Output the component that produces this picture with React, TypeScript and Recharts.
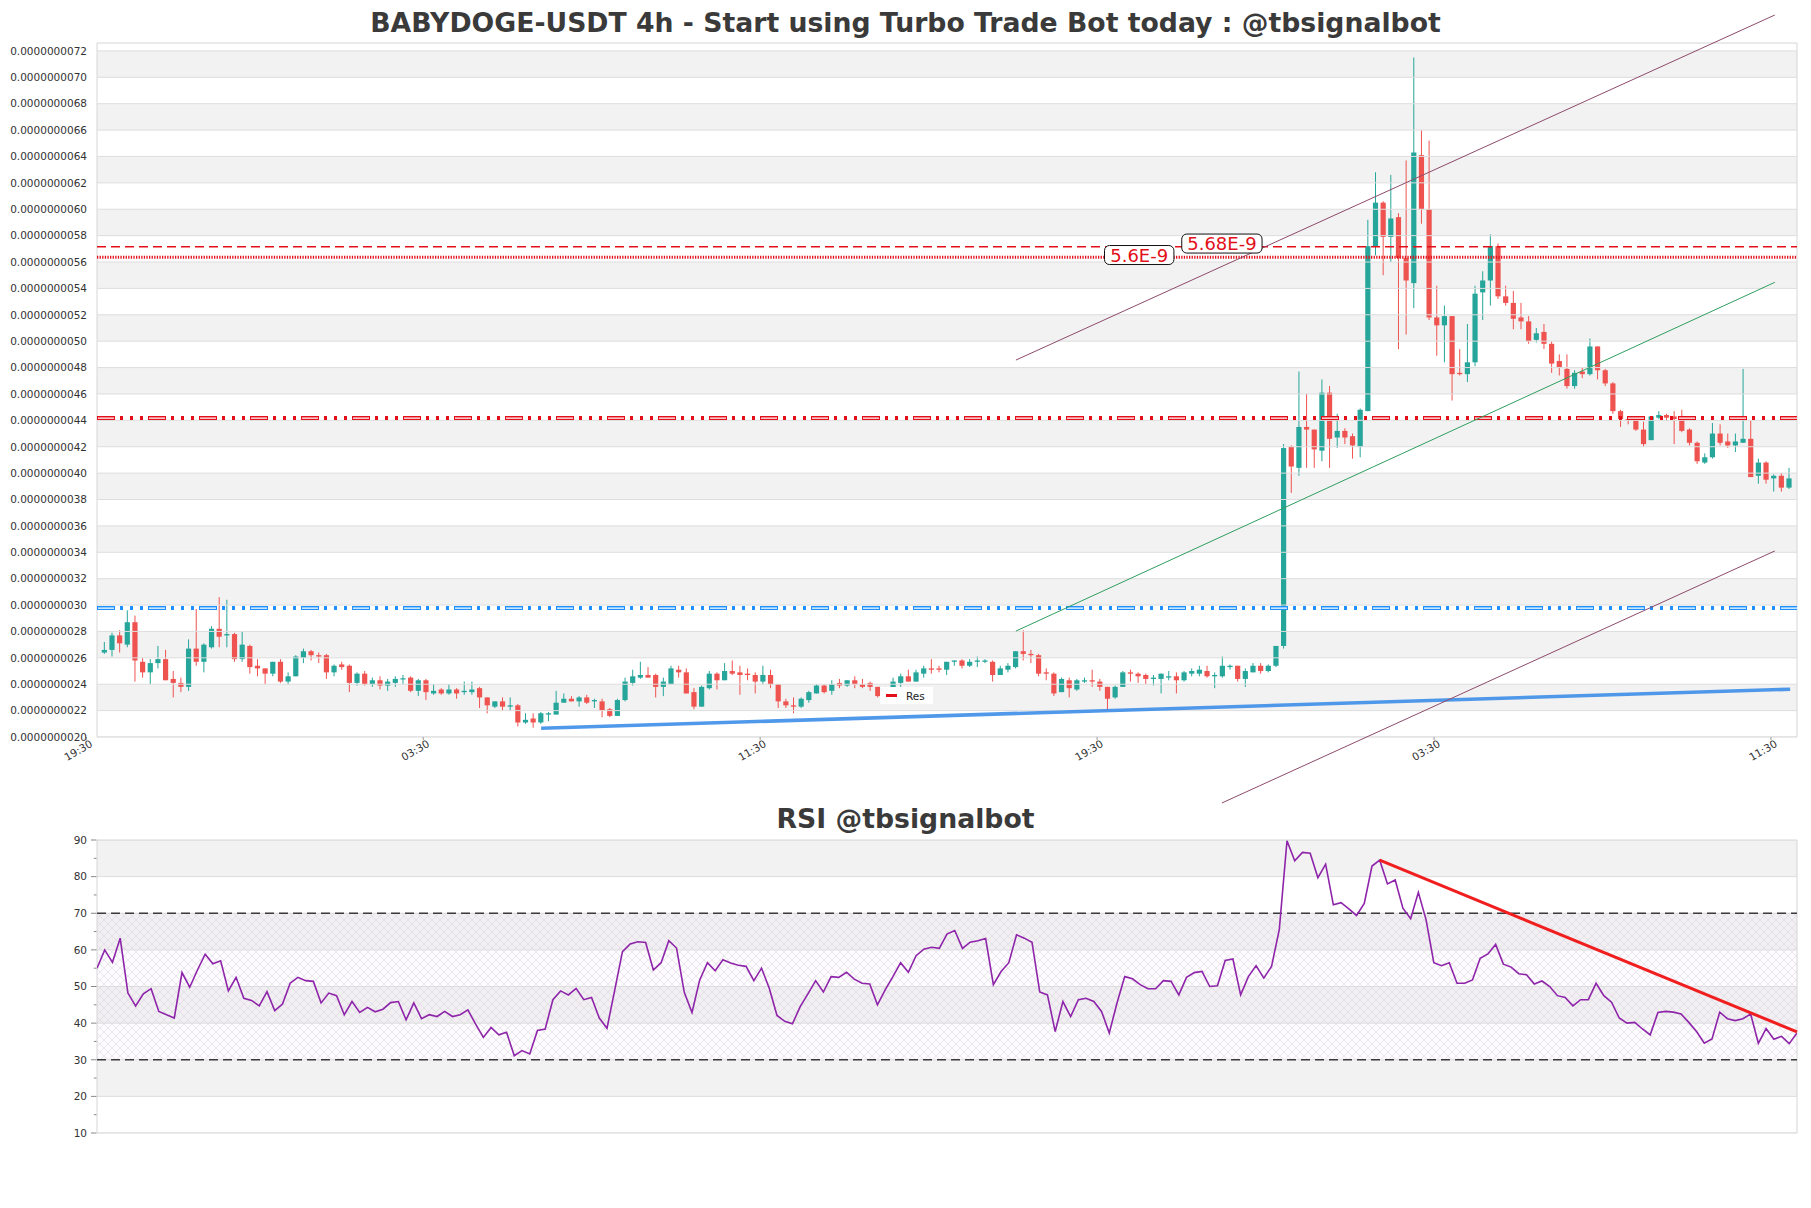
import React from 'react';
import {
  ComposedChart,
  Bar,
  Line,
  XAxis,
  YAxis,
  ReferenceArea,
  ReferenceLine,
  ReferenceDot,
} from 'recharts';

// ---------- DATA (prices in units of 1e-9 USDT) ----------
const opens = [
  2.64, 2.66, 2.77, 2.70, 2.87, 2.57, 2.49, 2.56, 2.59, 2.44,
  2.41, 2.38, 2.67, 2.57, 2.68, 2.82, 2.77, 2.78, 2.59, 2.69,
  2.54, 2.52, 2.48, 2.57, 2.42, 2.46, 2.60, 2.65, 2.62, 2.62,
  2.49, 2.55, 2.54, 2.41, 2.48, 2.40, 2.43, 2.39, 2.41, 2.44,
  2.45, 2.35, 2.43, 2.33, 2.36, 2.33, 2.36, 2.34, 2.34, 2.37,
  2.30, 2.23, 2.27, 2.23, 2.24, 2.11, 2.14, 2.11, 2.17, 2.17,
  2.26, 2.29, 2.27, 2.30, 2.27, 2.27, 2.21, 2.16, 2.28, 2.41,
  2.45, 2.47, 2.47, 2.38, 2.40, 2.51, 2.49, 2.34, 2.23, 2.37,
  2.48, 2.43, 2.50, 2.49, 2.48, 2.47, 2.42, 2.47, 2.40, 2.27,
  2.24, 2.23, 2.28, 2.33, 2.39, 2.35, 2.41, 2.39, 2.43, 2.40,
  2.41, 2.38, 2.31, 2.37, 2.41, 2.46, 2.42, 2.48, 2.52, 2.52,
  2.51, 2.57, 2.58, 2.54, 2.57, 2.57, 2.57, 2.47, 2.51, 2.53,
  2.65, 2.63, 2.62, 2.49, 2.48, 2.34, 2.43, 2.36, 2.42, 2.43,
  2.42, 2.38, 2.30, 2.38, 2.49, 2.48, 2.47, 2.44, 2.44, 2.45,
  2.46, 2.43, 2.48, 2.48, 2.50, 2.46, 2.46, 2.53, 2.54, 2.44,
  2.49, 2.54, 2.50, 2.54, 2.69, 4.20, 4.04, 4.35, 4.33, 4.17,
  4.61, 4.27, 4.32, 4.28, 4.20, 4.47, 5.72, 6.05, 5.79, 5.94,
  5.63, 5.44, 6.41, 6.00, 5.18, 5.12, 5.19, 4.76, 4.75, 4.84,
  5.37, 5.46, 5.72, 5.34, 5.29, 5.18, 5.15, 5.01, 5.07, 4.98,
  4.85, 4.79, 4.66, 4.77, 4.75, 4.96, 4.78, 4.68, 4.47, 4.41,
  4.40, 4.33, 4.25, 4.42, 4.44, 4.43, 4.43, 4.33, 4.23, 4.08,
  4.12, 4.30, 4.24, 4.21, 4.23, 4.26, 3.98, 4.08, 3.96, 3.98,
  3.89,
];
const highs = [
  2.72, 2.79, 2.81, 2.96, 2.92, 2.60, 2.59, 2.69, 2.66, 2.50,
  2.45, 2.74, 2.97, 2.71, 2.84, 3.06, 3.04, 2.79, 2.80, 2.70,
  2.59, 2.52, 2.57, 2.59, 2.49, 2.62, 2.67, 2.66, 2.64, 2.63,
  2.55, 2.57, 2.55, 2.49, 2.50, 2.45, 2.46, 2.44, 2.46, 2.47,
  2.46, 2.44, 2.44, 2.40, 2.37, 2.40, 2.37, 2.42, 2.42, 2.38,
  2.30, 2.27, 2.30, 2.30, 2.25, 2.18, 2.18, 2.19, 2.19, 2.35,
  2.33, 2.31, 2.31, 2.32, 2.29, 2.29, 2.22, 2.29, 2.45, 2.51,
  2.57, 2.53, 2.48, 2.45, 2.54, 2.54, 2.52, 2.37, 2.39, 2.50,
  2.49, 2.56, 2.58, 2.54, 2.52, 2.49, 2.54, 2.51, 2.40, 2.29,
  2.30, 2.30, 2.35, 2.40, 2.40, 2.43, 2.44, 2.43, 2.46, 2.44,
  2.42, 2.38, 2.38, 2.45, 2.48, 2.51, 2.51, 2.54, 2.59, 2.54,
  2.57, 2.58, 2.59, 2.59, 2.61, 2.59, 2.58, 2.54, 2.56, 2.65,
  2.81, 2.66, 2.63, 2.52, 2.49, 2.45, 2.45, 2.44, 2.45, 2.51,
  2.44, 2.38, 2.39, 2.50, 2.51, 2.49, 2.48, 2.47, 2.48, 2.50,
  2.49, 2.50, 2.52, 2.54, 2.54, 2.49, 2.61, 2.55, 2.54, 2.52,
  2.56, 2.56, 2.55, 2.69, 4.22, 4.21, 4.77, 4.60, 4.33, 4.71,
  4.66, 4.45, 4.34, 4.30, 4.49, 5.92, 6.28, 6.06, 6.26, 5.97,
  6.37, 7.15, 6.60, 6.52, 5.42, 5.27, 5.19, 4.94, 5.13, 5.42,
  5.53, 5.81, 5.74, 5.42, 5.38, 5.29, 5.19, 5.10, 5.13, 5.00,
  4.90, 4.90, 4.78, 4.80, 5.02, 4.96, 4.79, 4.69, 4.48, 4.43,
  4.41, 4.39, 4.43, 4.47, 4.45, 4.47, 4.48, 4.34, 4.24, 4.15,
  4.38, 4.37, 4.30, 4.30, 4.79, 4.40, 4.11, 4.09, 3.99, 4.00,
  4.04,
];
const lows = [
  2.63, 2.61, 2.64, 2.68, 2.42, 2.45, 2.40, 2.52, 2.43, 2.30,
  2.34, 2.35, 2.54, 2.49, 2.67, 2.68, 2.68, 2.57, 2.57, 2.48,
  2.46, 2.40, 2.46, 2.41, 2.40, 2.46, 2.56, 2.58, 2.56, 2.44,
  2.46, 2.51, 2.34, 2.39, 2.39, 2.38, 2.36, 2.35, 2.38, 2.40,
  2.34, 2.31, 2.28, 2.32, 2.32, 2.32, 2.29, 2.32, 2.32, 2.22,
  2.18, 2.22, 2.20, 2.20, 2.08, 2.10, 2.07, 2.10, 2.12, 2.17,
  2.26, 2.27, 2.23, 2.25, 2.22, 2.15, 2.15, 2.16, 2.27, 2.39,
  2.44, 2.45, 2.30, 2.31, 2.40, 2.45, 2.33, 2.21, 2.23, 2.36,
  2.36, 2.43, 2.47, 2.32, 2.43, 2.33, 2.40, 2.37, 2.22, 2.22,
  2.18, 2.22, 2.26, 2.33, 2.33, 2.32, 2.37, 2.38, 2.37, 2.37,
  2.35, 2.30, 2.30, 2.36, 2.38, 2.42, 2.42, 2.45, 2.48, 2.49,
  2.47, 2.54, 2.52, 2.53, 2.53, 2.56, 2.42, 2.47, 2.49, 2.52,
  2.58, 2.56, 2.46, 2.43, 2.31, 2.34, 2.30, 2.35, 2.41, 2.38,
  2.35, 2.20, 2.29, 2.38, 2.42, 2.41, 2.40, 2.39, 2.33, 2.43,
  2.33, 2.42, 2.46, 2.46, 2.45, 2.37, 2.45, 2.51, 2.42, 2.38,
  2.49, 2.48, 2.49, 2.53, 2.67, 3.85, 3.98, 4.04, 4.04, 4.09,
  4.04, 4.19, 4.22, 4.11, 4.12, 4.47, 5.65, 5.50, 5.60, 4.94,
  5.05, 5.25, 5.89, 5.16, 4.89, 4.84, 4.55, 4.74, 4.69, 4.81,
  5.16, 5.27, 5.32, 5.27, 5.09, 5.09, 4.98, 4.99, 4.94, 4.76,
  4.74, 4.64, 4.64, 4.72, 4.74, 4.71, 4.66, 4.45, 4.35, 4.37,
  4.32, 4.20, 4.25, 4.41, 4.40, 4.22, 4.31, 4.21, 4.07, 4.07,
  4.11, 4.21, 4.19, 4.16, 4.23, 3.97, 3.92, 3.92, 3.86, 3.86,
  3.88,
];
const closes = [
  2.66, 2.77, 2.71, 2.87, 2.58, 2.49, 2.56, 2.59, 2.43, 2.41,
  2.38, 2.67, 2.57, 2.70, 2.82, 2.76, 2.78, 2.59, 2.70, 2.53,
  2.52, 2.48, 2.57, 2.42, 2.46, 2.61, 2.65, 2.62, 2.61, 2.49,
  2.54, 2.53, 2.41, 2.48, 2.40, 2.43, 2.39, 2.42, 2.44, 2.445,
  2.35, 2.43, 2.34, 2.35, 2.33, 2.36, 2.33, 2.35, 2.36, 2.30,
  2.24, 2.27, 2.23, 2.24, 2.11, 2.13, 2.11, 2.18, 2.18, 2.26,
  2.29, 2.27, 2.30, 2.26, 2.28, 2.20, 2.16, 2.28, 2.42, 2.46,
  2.47, 2.45, 2.38, 2.42, 2.52, 2.49, 2.33, 2.23, 2.38, 2.48,
  2.43, 2.50, 2.48, 2.47, 2.47, 2.42, 2.47, 2.40, 2.27, 2.24,
  2.23, 2.29, 2.34, 2.39, 2.34, 2.40, 2.39, 2.43, 2.40, 2.38,
  2.38, 2.31, 2.37, 2.42, 2.46, 2.42, 2.49, 2.52, 2.51, 2.51,
  2.57, 2.58, 2.54, 2.57, 2.58, 2.58, 2.47, 2.52, 2.54, 2.65,
  2.63, 2.62, 2.48, 2.48, 2.33, 2.44, 2.37, 2.43, 2.43, 2.42,
  2.38, 2.29, 2.38, 2.49, 2.48, 2.46, 2.44, 2.45, 2.48, 2.46,
  2.43, 2.49, 2.50, 2.51, 2.46, 2.47, 2.54, 2.54, 2.44, 2.50,
  2.54, 2.50, 2.54, 2.69, 4.19, 4.05, 4.35, 4.33, 4.18, 4.61,
  4.26, 4.32, 4.27, 4.21, 4.48, 5.72, 6.05, 5.79, 5.93, 5.63,
  5.46, 6.43, 6.00, 5.18, 5.12, 5.19, 4.75, 4.75, 4.84, 5.36,
  5.46, 5.72, 5.34, 5.29, 5.17, 5.15, 5.00, 5.06, 4.98, 4.83,
  4.80, 4.66, 4.76, 4.75, 4.96, 4.78, 4.68, 4.47, 4.41, 4.40,
  4.33, 4.22, 4.43, 4.44, 4.42, 4.41, 4.32, 4.23, 4.09, 4.12,
  4.30, 4.23, 4.21, 4.24, 4.26, 3.97, 4.08, 3.95, 3.98, 3.89,
  3.96,
];
const rsiValues = [
  55.0, 60.0, 56.6, 63.2, 48.2, 44.7, 48.0, 49.4, 43.2, 42.3,
  41.4, 53.8, 49.8, 54.5, 58.8, 56.2, 57.0, 48.8, 52.5, 46.8,
  46.2, 44.7, 48.6, 43.4, 45.2, 50.9, 52.5, 51.6, 51.4, 45.5,
  48.2, 47.5, 42.3, 45.9, 42.9, 44.3, 43.1, 43.8, 45.6, 45.9,
  40.9, 45.5, 41.2, 42.3, 41.8, 43.2, 41.8, 42.3, 43.6, 39.7,
  36.1, 38.8, 36.8, 37.5, 31.1, 32.5, 31.6, 38.0, 38.4, 46.4,
  48.8, 47.7, 49.5, 46.4, 47.0, 41.4, 38.6, 49.0, 59.5, 61.6,
  62.2, 62.0, 54.5, 56.5, 62.5, 60.5, 48.4, 42.9, 51.8, 56.5,
  54.3, 57.3, 56.4, 55.8, 55.5, 51.6, 55.0, 49.5, 42.1, 40.5,
  39.8, 44.5, 48.0, 51.6, 48.5, 52.7, 52.5, 53.9, 52.0, 50.9,
  50.7, 45.0, 49.1, 52.7, 56.5, 53.9, 58.4, 60.2, 60.7, 60.4,
  64.3, 65.3, 60.4, 62.1, 62.5, 63.1, 50.5, 54.1, 56.5, 64.1,
  63.2, 62.1, 48.5, 47.7, 37.7, 45.9, 41.8, 46.4, 46.8, 45.9,
  43.2, 37.3, 45.5, 52.7, 52.1, 50.5, 49.4, 49.4, 51.6, 51.4,
  47.7, 52.5, 53.8, 54.1, 50.0, 50.2, 57.1, 57.5, 47.7, 52.7,
  55.7, 52.3, 55.5, 65.5, 89.8, 84.3, 86.6, 86.4, 79.7, 83.4,
  72.3, 72.9, 71.2, 69.4, 72.7, 82.9, 84.5, 78.0, 79.1, 71.4,
  68.5, 75.7, 68.2, 56.5, 55.7, 56.5, 50.9, 50.9, 51.8, 57.7,
  58.9, 61.5, 56.1, 55.3, 53.5, 53.2, 50.7, 51.5, 50.0, 47.5,
  47.0, 44.7, 46.4, 46.4, 50.9, 47.5, 45.7, 41.4, 40.0, 40.2,
  38.4, 36.8, 42.9, 43.2, 43.0, 42.5, 40.2, 37.7, 34.5, 35.7,
  43.0, 41.2, 40.7, 41.2, 42.5, 34.5, 38.5, 35.6, 36.4, 34.4,
  37.3,
];

const priceTicks = [
  2.0, 2.2, 2.4, 2.6, 2.8, 3.0, 3.2, 3.4, 3.6, 3.8, 4.0, 4.2, 4.4, 4.6,
  4.8, 5.0, 5.2, 5.4, 5.6, 5.8, 6.0, 6.2, 6.4, 6.6, 6.8, 7.0, 7.2,
];
const timeTickPositions = [-2.4, 41.6, 85.6, 129.6, 173.6, 217.6];
const timeTickLabels = ['19:30', '03:30', '11:30', '19:30', '03:30', '11:30'];
const rsiTicks = [10, 15, 20, 25, 30, 35, 40, 45, 50, 55, 60, 65, 70, 75, 80, 85, 90];
const rsiLabelTicks = [10, 20, 30, 40, 50, 60, 70, 80, 90];

// horizontal levels
const supportLevel = 2.977;
const resistanceLevel = 4.417;
const dashedLevel = 5.716;
const dottedLevel = 5.636;
const levelLabels = [
  { x: 135.1, y: 5.653, text: '5.6E-9' },
  { x: 145.9, y: 5.74, text: '5.68E-9' },
];

// trend lines (x = candle index, y = price)
const upperChannel = [{ x: 119, y: 4.857 }, { x: 218.1, y: 7.472 }];
const lowerChannel = [{ x: 145.9, y: 1.5 }, { x: 218.1, y: 3.41 }];
const greenTrend = [{ x: 119, y: 2.803 }, { x: 218.1, y: 5.446 }];
const blueTrend = [{ x: 57, y: 2.066 }, { x: 220.1, y: 2.362 }];
const rsiTrend = [{ x: 166, y: 84.5 }, { x: 220, y: 37.6 }];

// ---------- derived tables ----------
const candles = opens.map((o, i) => ({ i, o, h: highs[i], l: lows[i], c: closes[i] }));
const rsiData = rsiValues.map((v, i) => ({ i, v }));
const priceDesc = [...priceTicks].sort((a, b) => b - a);
const priceBands = priceDesc.slice(0, -1).map((top, k) => ({ top, bottom: priceDesc[k + 1], gray: k % 2 === 0 }));
const rsiBands = [
  { y1: 80, y2: 90 },
  { y1: 60, y2: 70 },
  { y1: 40, y2: 50 },
  { y1: 20, y2: 30 },
];

const GREEN = '#26a69a';
const RED = '#ef5350';
const FONT = 'DejaVu Sans, Verdana, sans-serif';

const Candle = (props: any) => {
  const { x, y, width, height, payload } = props;
  if (!payload || x == null) return null;
  const { o, h, l, c } = payload;
  const cx = x + width / 2;
  const span = h - l;
  const top0 = Math.min(y, y + height);
  const hgt = Math.abs(height);
  const toY = (v: number) => (span === 0 ? top0 : top0 + ((h - v) / span) * hgt);
  const color = c >= o ? GREEN : RED;
  const bTop = toY(Math.max(o, c));
  const bBot = toY(Math.min(o, c));
  const bh = Math.max(1.2, bBot - bTop);
  return (
    <g>
      <line x1={cx} x2={cx} y1={top0} y2={top0 + hgt} stroke={color} strokeWidth={1} />
      <rect x={cx - 2.6} y={bTop} width={5.2} height={bh} fill={color} />
    </g>
  );
};

const PriceTick = (props: any) => {
  const { x, y, payload } = props;
  return (
    <text x={x - 10} y={y} dy="0.36em" textAnchor="end" fontSize={10.5} fill="#333" fontFamily={FONT}>
      {(payload.value * 1e-9).toFixed(10)}
    </text>
  );
};

const TimeTick = (props: any) => {
  const { x, y, payload } = props;
  const idx = timeTickPositions.indexOf(payload.value);
  const px = x + 7;
  const py = y + 4;
  return (
    <text
      x={px}
      y={py}
      transform={`rotate(-30, ${px}, ${py})`}
      textAnchor="end"
      fontSize={10.5}
      fill="#333"
      fontFamily={FONT}
    >
      {idx >= 0 ? timeTickLabels[idx] : ''}
    </text>
  );
};

const RsiTick = (props: any) => {
  const { x, y, payload } = props;
  const major = rsiLabelTicks.includes(payload.value);
  return (
    <g>
      <line x1={x - (major ? 6 : 3.2)} x2={x - 0.5} y1={y} y2={y} stroke="#888" strokeWidth={1} />
      {major && (
        <text x={x - 10} y={y} dy="0.36em" textAnchor="end" fontSize={10.5} fill="#333" fontFamily={FONT}>
          {payload.value}
        </text>
      )}
    </g>
  );
};

const LevelLabel = (text: string) => (props: any) => {
  const { cx, cy } = props;
  const w = text.length * 10.9 + 4;
  const h = 19;
  return (
    <g>
      <rect x={cx - w / 2} y={cy - h / 2} width={w} height={h} rx={5} ry={5} fill="#fff" stroke="#111" strokeWidth={1} />
      <text x={cx} y={cy} dy="0.36em" textAnchor="middle" fontSize={18} fill="#e3101a" fontFamily={FONT}>
        {text}
      </text>
    </g>
  );
};

export default function App() {
  return (
    <div style={{ position: 'absolute', left: 0, top: 0, width: 1811, height: 1208, background: '#fff', fontFamily: FONT }}>
      <svg width={0} height={0} style={{ position: 'absolute' }}>
        <defs>
          <pattern id="rsiHatch" width="8" height="8" patternUnits="userSpaceOnUse">
            <rect width="8" height="8" fill="rgba(225,210,235,0.08)" />
            <path d="M0,0 L8,8 M8,0 L0,8" stroke="#d7d0dd" strokeWidth="0.5" />
          </pattern>
        </defs>
      </svg>

      {/* main price chart */}
      <div style={{ position: 'absolute', left: 0, top: 0 }}>
        <ComposedChart width={1811} height={810} data={candles} margin={{ top: 43, right: 14, bottom: 0, left: 0 }}>
          <XAxis
            type="number"
            dataKey="i"
            domain={[-1, 221]}
            ticks={timeTickPositions}
            interval={0}
            height={73}
            tick={<TimeTick />}
            tickSize={3}
            tickLine={{ stroke: '#999' }}
            axisLine={false}
            allowDataOverflow
          />
          <YAxis
            type="number"
            domain={[2.0, 7.26]}
            ticks={priceTicks}
            interval={0}
            width={97}
            tick={<PriceTick />}
            tickLine={false}
            tickSize={0}
            tickMargin={0}
            axisLine={false}
            allowDataOverflow
          />
          {priceBands.filter((b) => b.gray).map((b) => (
            <ReferenceArea key={`band-${b.top}`} y1={b.bottom} y2={b.top} fill="#f2f2f2" fillOpacity={1} stroke="none" ifOverflow="hidden" />
          ))}
          {priceTicks.map((t) => (
            <ReferenceLine key={`grid-${t}`} y={t} stroke="#dddddd" strokeWidth={1} ifOverflow="hidden" />
          ))}
          <ReferenceArea x1={-1} x2={221} y1={2.0} y2={7.26} fill="none" stroke="#d6d6d6" strokeWidth={1} ifOverflow="visible" />

          <Bar dataKey={(d: any) => [d.l, d.h]} barSize={5} shape={<Candle />} isAnimationActive={false} />

          {/* horizontal levels */}
          <ReferenceLine y={supportLevel} stroke="#1e90ff" strokeWidth={4} strokeDasharray="18 5 3 7 3 7 3 5" ifOverflow="hidden" />
          <ReferenceLine y={supportLevel} stroke="#ffffff" strokeWidth={1.4} strokeDasharray="0 1 16 34" ifOverflow="hidden" />
          <ReferenceLine y={resistanceLevel} stroke="#e3101a" strokeWidth={4} strokeDasharray="18 5 3 7 3 7 3 5" ifOverflow="hidden" />
          <ReferenceLine y={resistanceLevel} stroke="#ffffff" strokeWidth={1.4} strokeDasharray="0 1 16 34" ifOverflow="hidden" />
          <ReferenceLine y={dashedLevel} stroke="#e3101a" strokeWidth={1.4} strokeDasharray="9 5" ifOverflow="hidden" />
          <ReferenceLine y={dottedLevel} stroke="#e3101a" strokeWidth={3} strokeDasharray="1.3 1.3" ifOverflow="hidden" />

          {/* trend lines */}
          <ReferenceLine segment={blueTrend} stroke="#3d8ee8" strokeWidth={3.6} strokeOpacity={0.9} ifOverflow="visible" />
          <ReferenceLine segment={greenTrend} stroke="#2f9e5f" strokeWidth={1} ifOverflow="visible" />
          <ReferenceLine segment={upperChannel} stroke="#8d4a6a" strokeWidth={1} ifOverflow="visible" />
          <ReferenceLine segment={lowerChannel} stroke="#8d4a6a" strokeWidth={1} ifOverflow="visible" />

          {levelLabels.map((lb) => (
            <ReferenceDot key={lb.text} x={lb.x} y={lb.y} r={0} ifOverflow="visible" shape={LevelLabel(lb.text)} />
          ))}
        </ComposedChart>
      </div>

      {/* legend */}
      <div
        style={{
          position: 'absolute',
          left: 880,
          top: 687,
          width: 53,
          height: 17,
          background: '#fff',
          display: 'flex',
          alignItems: 'center',
          fontSize: 10.5,
          color: '#222',
          fontFamily: FONT,
        }}
      >
        <span style={{ display: 'inline-block', width: 11, height: 2.5, background: '#e3101a', marginLeft: 6, marginRight: 9 }} />
        <span>Res</span>
      </div>

      {/* RSI chart */}
      <div style={{ position: 'absolute', left: 0, top: 800 }}>
        <ComposedChart width={1811} height={340} data={rsiData} margin={{ top: 40, right: 14, bottom: 7, left: 0 }}>
          <XAxis type="number" dataKey="i" domain={[0, 220]} hide allowDataOverflow />
          <YAxis
            type="number"
            domain={[10, 90]}
            ticks={rsiTicks}
            interval={0}
            width={97}
            tick={<RsiTick />}
            tickLine={false}
            tickSize={0}
            tickMargin={0}
            axisLine={false}
            allowDataOverflow
          />
          {rsiBands.map((b) => (
            <ReferenceArea key={`rb-${b.y1}`} y1={b.y1} y2={b.y2} fill="#f2f2f2" fillOpacity={1} stroke="none" ifOverflow="hidden" />
          ))}
          <ReferenceArea y1={30} y2={70} fill="url(#rsiHatch)" fillOpacity={1} stroke="none" ifOverflow="hidden" />
          {rsiLabelTicks.map((t) => (
            <ReferenceLine key={`rg-${t}`} y={t} stroke="#dddddd" strokeWidth={1} ifOverflow="hidden" />
          ))}
          <ReferenceArea x1={0} x2={220} y1={10} y2={90} fill="none" stroke="#d6d6d6" strokeWidth={1} ifOverflow="visible" />
          <ReferenceLine y={70} stroke="#3a3a3a" strokeWidth={1.3} strokeDasharray="9 5" ifOverflow="hidden" />
          <ReferenceLine y={30} stroke="#3a3a3a" strokeWidth={1.3} strokeDasharray="9 5" ifOverflow="hidden" />
          <Line type="linear" dataKey="v" stroke="#8e24aa" strokeWidth={1.6} dot={false} isAnimationActive={false} />
          <ReferenceLine segment={rsiTrend} stroke="#f01e1e" strokeWidth={3} ifOverflow="visible" />
        </ComposedChart>
      </div>

      {/* titles */}
      <svg width={1811} height={1208} style={{ position: 'absolute', left: 0, top: 0, pointerEvents: 'none' }}>
        <text x={905.5} y={32} textAnchor="middle" fontSize={26.7} fontWeight="bold" fill="#3a3a3a" fontFamily={FONT}>
          BABYDOGE-USDT 4h - Start using Turbo Trade Bot today : @tbsignalbot
        </text>
        <text x={905.5} y={828} textAnchor="middle" fontSize={26.7} fontWeight="bold" fill="#3a3a3a" fontFamily={FONT}>
          RSI @tbsignalbot
        </text>
      </svg>
    </div>
  );
}
